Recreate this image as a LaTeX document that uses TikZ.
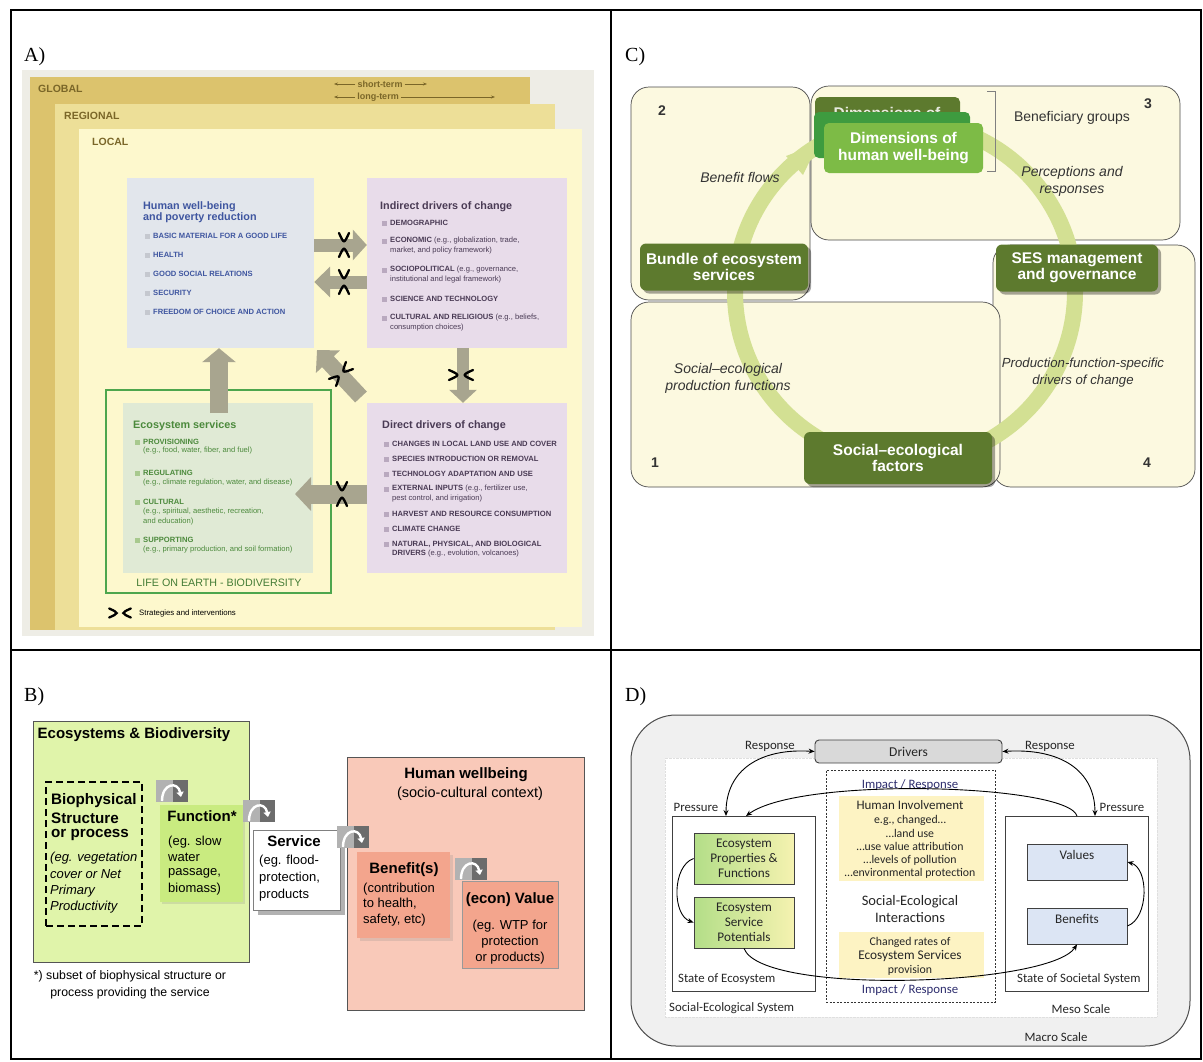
\documentclass[tikz,border=0pt]{standalone}
\usepackage{fontspec}
\setmainfont{Liberation Sans}
\newfontfamily\tnr{Liberation Serif}
\newfontfamily\carlito{Carlito}
\usetikzlibrary{arrows.meta,fit,shadows}
% panel A colours
\definecolor{abg}{HTML}{EEEDE6}
\definecolor{aglob}{HTML}{DCC36D}
\definecolor{areg}{HTML}{EDDF98}
\definecolor{aloc}{HTML}{FDF8CD}
\definecolor{ahwb}{HTML}{E2E6EC}
\definecolor{apur}{HTML}{E8DCEA}
\definecolor{aeco}{HTML}{E0EAD5}
\definecolor{agreen}{HTML}{4DA64D}
\definecolor{aarr}{HTML}{A8A58F}
\definecolor{alvl}{HTML}{7A6628}
\definecolor{ablue}{HTML}{3F56A0}
\definecolor{apurt}{HTML}{4A3B55}
\definecolor{agrt}{HTML}{4C8A3C}
\definecolor{bulb}{HTML}{C5C8CF}
\definecolor{bulp}{HTML}{B9A9BF}
\definecolor{bulg}{HTML}{A8C98E}
% panel C colours
\definecolor{ccream}{HTML}{FCF9E0}
\definecolor{cbord}{HTML}{4A4A4A}
\definecolor{cring}{HTML}{D3E093}
\definecolor{cdark}{HTML}{5D7A2E}
\definecolor{cmid}{HTML}{3E9B3F}
\definecolor{clight}{HTML}{7DBB46}
\definecolor{ctext}{HTML}{333333}
% panel B colours
\definecolor{bgreen}{HTML}{E0F4AA}
\definecolor{bfunc}{HTML}{C9EB80}
\definecolor{bpink}{HTML}{F9C9B9}
\definecolor{bsalmon}{HTML}{F3A58D}
\definecolor{bbord}{HTML}{555555}
% panel D colours
\definecolor{dout}{HTML}{F0F0F0}
\definecolor{dgrey}{HTML}{D9D9D9}
\definecolor{dyel}{HTML}{FDF3C3}
\definecolor{dblue}{HTML}{DCE5F4}
\definecolor{ecoL}{HTML}{B3DE88}
\definecolor{ecoR}{HTML}{F5F2B0}
\definecolor{dnavy}{HTML}{2E2E6E}
\newcommand\fsz[2]{\fontsize{#1}{#2}\selectfont}
\newcommand\aitem[5]{\fill[#2] ({#3-8},{#4-2.5}) rectangle ++(5,5); \node[ait,text=#1] at (#3,#4) {#5};}
\tikzset{
  every node/.style={inner sep=0pt},
  ait/.style={anchor=west, font=\fsz{7.6}{9}},
  atitle/.style={anchor=west, font=\fsz{10.8}{11.5}\bfseries, align=left},
  lvl/.style={anchor=west, font=\fsz{10.5}{11}\bfseries, text=alvl},
  term/.style={font=\fsz{9}{9}\bfseries, text=alvl},
  termline/.style={draw=alvl, line width=0.7, shorten <=2pt, -{Stealth[length=4pt,width=3pt]}},
  fat/.style={draw=aarr, line width=#1},
  pinch/.style={line width=2.3pt, draw=black, line cap=round},
  pinchh/.pic={\draw[pinch] (-5,-12) .. controls (0,-1) .. (5,-12); \draw[pinch] (-5,12) .. controls (0,1) .. (5,12);},
  pinchv/.pic={\draw[pinch] (-12,-5) .. controls (-1,0) .. (-12,5); \draw[pinch] (12,-5) .. controls (1,0) .. (12,5);},
  cbox/.style={draw=cbord, fill=ccream, line width=0.7, rounded corners=18},
  cnode/.style={fill=cdark, rounded corners=6, text=white, font=\fsz{15.5}{16}\bfseries, align=center,
     drop shadow={shadow xshift=3pt, shadow yshift=-3pt, fill=black, opacity=0.35}},
  ctxt/.style={text=ctext, font=\fsz{14}{17}\itshape, align=center},
  btxt/.style={anchor=west, font=\fsz{13}{14}},
  bhead/.style={font=\fsz{15}{16}\bfseries},
  curl/.pic={
    \fill[gray!60] (0,0) rectangle (32,22);
    \fill[gray!85!black] (17,0) rectangle (32,22);
    \draw[white, line width=2.4, -{Triangle[length=5pt,width=7pt]}] (6,21) .. controls (6,3) and (22,1) .. (25,17);},
  dtxt/.style={font=\carlito\fsz{12.8}{14}, text=black!85},
  dbox/.style={draw=black!75, line width=0.9},
  darr/.style={draw=black, line width=0.9},
  stl/.tip={Stealth[length=6pt,width=5pt]}
}
\begin{document}
\begin{tikzpicture}[x=1pt,y=-1pt]
\useasboundingbox (0,0) rectangle (1203,1061);
\fill[white] (0,0) rectangle (1203,1061);

%%%%%%%%%%%%%%%% PANEL A
\fill[abg] (22,70) rectangle (594,636);
\fill[aglob] (30,77) rectangle (530,630);
\fill[areg] (55,104) rectangle (555,630);
\fill[aloc] (79,129) rectangle (582,627);
\node[lvl] at (38,89) {GLOBAL};
\node[lvl] at (64,116) {REGIONAL};
\node[lvl] at (92,142) {LOCAL};
\node[term] (st) at (380,84) {short-term};
\coordinate (st1) at (334,84); \coordinate (st2) at (427,84);
\draw[termline] (st.west) -- (st1);
\draw[termline] (st.east) -- (st2);
\node[term] (lt) at (378,97) {long-term};
\coordinate (lt1) at (334,97); \coordinate (lt2) at (495,97);
\draw[termline] (lt.west) -- (lt1);
\draw[termline] (lt.east) -- (lt2);

\node[fit={(127,178) (314,348)}, fill=ahwb] (hwb) {};
\node[fit={(367,178) (567,348)}, fill=apur] (ind) {};
\node[fit={(106,390) (331,593)}, draw=agreen, line width=1.6] (life) {};
\node[fit={(123,403) (313,573)}, fill=aeco] (es) {};
\node[fit={(367,403) (567,573)}, fill=apur] (dir) {};

% human well-being
\node[atitle, text=ablue] at (143,212) {Human well-being\\and poverty reduction};
\aitem{ablue}{bulb}{153}{236}{\textbf{BASIC MATERIAL FOR A GOOD LIFE}}
\aitem{ablue}{bulb}{153}{255}{\textbf{HEALTH}}
\aitem{ablue}{bulb}{153}{274}{\textbf{GOOD SOCIAL RELATIONS}}
\aitem{ablue}{bulb}{153}{293}{\textbf{SECURITY}}
\aitem{ablue}{bulb}{153}{312}{\textbf{FREEDOM OF CHOICE AND ACTION}}
% indirect drivers
\node[atitle, text=apurt] at (380,207) {Indirect drivers of change};
\aitem{apurt}{bulp}{390}{223}{\textbf{DEMOGRAPHIC}}
\aitem{apurt}{bulp}{390}{241}{\textbf{ECONOMIC} (e.g., globalization, trade,}
\node[ait, text=apurt] at (390,251) {market, and policy framework)};
\aitem{apurt}{bulp}{390}{270}{\textbf{SOCIOPOLITICAL} (e.g., governance,}
\node[ait, text=apurt] at (390,280) {institutional and legal framework)};
\aitem{apurt}{bulp}{390}{299}{\textbf{SCIENCE AND TECHNOLOGY}}
\aitem{apurt}{bulp}{390}{318}{\textbf{CULTURAL AND RELIGIOUS} (e.g., beliefs,}
\node[ait, text=apurt] at (390,328) {consumption choices)};
% ecosystem services
\node[atitle, text=agrt] at (133,426) {Ecosystem services};
\aitem{agrt}{bulg}{143}{442}{\textbf{PROVISIONING}}
\node[ait, text=agrt] at (143,451) {(e.g., food, water, fiber, and fuel)};
\aitem{agrt}{bulg}{143}{473}{\textbf{REGULATING}}
\node[ait, text=agrt] at (143,483) {(e.g., climate regulation, water, and disease)};
\aitem{agrt}{bulg}{143}{502}{\textbf{CULTURAL}}
\node[ait, text=agrt] at (143,512) {(e.g., spiritual, aesthetic, recreation,};
\node[ait, text=agrt] at (143,522) {and education)};
\aitem{agrt}{bulg}{143}{540}{\textbf{SUPPORTING}}
\node[ait, text=agrt] at (143,550) {(e.g., primary production, and soil formation)};
\node[font=\fsz{10.7}{11}, text=agrt!90!black] at (219,583) {LIFE ON EARTH - BIODIVERSITY};
% direct drivers
\node[atitle, text=apurt] at (382,426) {Direct drivers of change};
\aitem{apurt}{bulp}{392}{444}{\textbf{CHANGES IN LOCAL LAND USE AND COVER}}
\aitem{apurt}{bulp}{392}{459}{\textbf{SPECIES INTRODUCTION OR REMOVAL}}
\aitem{apurt}{bulp}{392}{474}{\textbf{TECHNOLOGY ADAPTATION AND USE}}
\aitem{apurt}{bulp}{392}{489}{\textbf{EXTERNAL INPUTS} (e.g., fertilizer use,}
\node[ait, text=apurt] at (392,499) {pest control, and irrigation)};
\aitem{apurt}{bulp}{392}{514}{\textbf{HARVEST AND RESOURCE CONSUMPTION}}
\aitem{apurt}{bulp}{392}{529}{\textbf{CLIMATE CHANGE}}
\aitem{apurt}{bulp}{392}{544}{\textbf{NATURAL, PHYSICAL, AND BIOLOGICAL}}
\node[ait, text=apurt] at (392,554) {\textbf{DRIVERS} (e.g., evolution, volcanoes)};

% fat arrows
\coordinate (upstart) at (219,413);
\coordinate (diagstart) at (361,397);
\coordinate (diagend) at (317,350);
\coordinate (lefttip) at (295,494);
\draw[fat=13, -{Triangle[length=14pt,width=30pt]}] (hwb.east |- 0,245) -- (ind.west |- 0,245);
\draw[fat=13, -{Triangle[length=16pt,width=30pt]}] (ind.west |- 0,282) -- (hwb.east |- 0,282);
\draw[fat=18, -{Triangle[length=14pt,width=33pt]}] (upstart) -- (hwb.south -| upstart);
\draw[fat=16, -{Triangle[length=16pt,width=32pt]}] (diagstart) -- (diagend);
\draw[fat=12, -{Triangle[length=13pt,width=27pt]}] (ind.south -| 463,0) -- (dir.north -| 463,0);
\draw[fat=19, -{Triangle[length=16pt,width=33pt]}] (dir.west |- lefttip) -- (lefttip);
\pic at (344,245) {pinchh};
\pic at (344,282) {pinchh};
\pic at (342,494) {pinchh};
\pic at (461,375) {pinchv};
\pic[rotate=-45] at (341,374) {pinchh};
\pic[scale=0.9] at (120,613) {pinchv};
\node[anchor=west, font=\fsz{7.8}{8}] at (139,613) {Strategies and interventions};

%%%%%%%%%%%%%%%% PANEL C
\node[cbox, fit={(631,87) (810,300)}] (q2) {};
\node[cbox, fit={(811,86) (1180,240)}] (q3) {};
\node[cbox, fit={(993,245) (1195,487)}] (q4) {};
\node[cbox, fit={(631,302) (1000,487)}] (q1) {};
\draw[cring, line width=16pt] (905,292) circle[radius=170pt];
\fill[cring] (818,144) -- (786,156) -- (803,175) -- cycle;
\node[font=\fsz{14}{14}\bfseries, text=ctext] at (662,111) {2};
\node[font=\fsz{14}{14}\bfseries, text=ctext] at (1148,104) {3};
\node[font=\fsz{14}{14}\bfseries, text=ctext] at (655,463) {1};
\node[font=\fsz{14}{14}\bfseries, text=ctext] at (1147,463) {4};
\node[ctxt] at (740,177) {Benefit flows};
\node[ctxt, font=\fsz{14}{17}] at (1072,118) {Beneficiary groups};
\node[ctxt] at (1072,181) {Perceptions and\\responses};
\node[ctxt] at (728,378) {Social–ecological\\production functions};
\node[ctxt, font=\fsz{13.2}{17}\itshape] at (1083,373) {Production-function-specific\\drivers of change};
\node[cnode, minimum width=168pt, minimum height=47pt] (bundle) at (724,267) {Bundle of ecosystem\\services};
\node[cnode, minimum width=162pt, minimum height=47pt] (ses) at (1077,268) {SES management\\and governance};
\node[cnode, minimum width=188pt, minimum height=52pt] (sef) at (898,458) {Social–ecological\\factors};
\node[fit={(815,97) (960,140)}, fill=cdark, rounded corners=5] (dim1) {};
\node[text=white!85!cdark, font=\fsz{15.5}{16}\bfseries] at (887,113) {Dimensions of};
\node[fit={(814,112) (970,158)}, fill=cmid, rounded corners=5] (dim2) {};
\node[fit={(824,123) (983,173)}, fill=clight, rounded corners=5] (dim3) {};
\node[text=white, font=\fsz{15.5}{17}\bfseries, align=center] at (dim3) {Dimensions of\\human well-being};
\draw[gray, line width=0.8] (987,91) -- (995,91) -- (995,171) -- (987,171);

%%%%%%%%%%%%%%%% PANEL B
\node[fit={(33,721) (249,962)}, fill=bgreen, draw=bbord, line width=1] (ecob) {};
\node[font=\fsz{15}{16}\bfseries] at (134,735) {Ecosystems \& Biodiversity};
\node[fit={(46,782) (142,926)}, draw=black, line width=1.3, dash pattern=on 7pt off 4pt] (bio) {};
\node[btxt, font=\fsz{15.2}{16}\bfseries] at (51,801) {Biophysical};
\node[btxt, font=\fsz{15.2}{16}\bfseries] at (51,818) {Structure};
\node[btxt, font=\fsz{15.2}{16}\bfseries] at (51,835) {or process};
\node[btxt, font=\fsz{13}{14}\itshape] at (50,858) {(eg. vegetation};
\node[btxt, font=\fsz{13}{14}\itshape] at (50,874) {cover or Net};
\node[btxt, font=\fsz{13}{14}\itshape] at (50,891) {Primary};
\node[btxt, font=\fsz{13}{14}\itshape] at (50,907) {Productivity};
\node[fit={(160,805) (243,902)}, fill=bfunc, drop shadow={shadow xshift=2pt, shadow yshift=-2pt, opacity=0.2}] (func) {};
\node[bhead] at (202,816) {Function*};
\node[btxt] at (168,842) {(eg. slow};
\node[btxt] at (168,857) {water};
\node[btxt] at (168,873) {passage,};
\node[btxt] at (168,889) {biomass)};
\node[fit={(347,757) (584,1010)}, fill=bpink, draw=bbord, line width=1] (hw) {};
\node[font=\fsz{15}{16}\bfseries] at (466,775) {Human wellbeing};
\node[font=\fsz{14.5}{15}] at (470,794) {(socio-cultural context)};
\node[fit={(253,830) (340,910)}, fill=white, draw=gray, line width=0.6, drop shadow={shadow xshift=5pt, shadow yshift=-5pt, fill=gray, opacity=0.6}] (serv) {};
\node[bhead] at (294,841) {Service};
\node[btxt] at (259,861) {(eg. flood-};
\node[btxt] at (259,878) {protection,};
\node[btxt] at (259,895) {products};
\node[fit={(357,852) (450,938)}, fill=bsalmon, drop shadow={shadow xshift=3pt, shadow yshift=-3pt, opacity=0.2}] (ben) {};
\node[bhead] at (404,870) {Benefit(s)};
\node[btxt] at (363,889) {(contribution};
\node[btxt] at (363,904) {to health,};
\node[btxt] at (363,920) {safety, etc)};
\node[fit={(462,881) (558,968)}, fill=bsalmon, draw=gray!80, line width=0.6] (val) {};
\node[bhead] at (510,900) {(econ) Value};
\node[font=\fsz{13}{14}] at (510,926) {(eg. WTP for};
\node[font=\fsz{13}{14}] at (510,942) {protection};
\node[font=\fsz{13}{14}] at (510,958) {or products)};
\pic at (156,780) {curl};
\pic at (243,800) {curl};
\pic at (337,826) {curl};
\pic at (455,858) {curl};
\node[font=\fsz{12.3}{13}] at (130,976) {*) subset of biophysical structure or};
\node[font=\fsz{12.3}{13}] at (130,993) {process providing the service};

%%%%%%%%%%%%%%%% PANEL D
\node[fit={(631,715) (1190,1046)}, draw=black!70, fill=dout, rounded corners=45, line width=1] (macro) {};
\node[fit={(665,758) (1157,1017)}, fill=white, draw=gray!25, densely dotted] (meso) {};
\node[fit={(826,770) (995,1002)}, draw=black!80, line width=0.7, dash pattern=on 2pt off 1.5pt] (sei) {};
\node[fit={(815,740) (1002,763)}, dbox, fill=dgrey, rounded corners=4] (drv) {};
\node[dtxt, font=\carlito\fsz{13.5}{14}] at (drv) {Drivers};
\node[dtxt, text=dnavy] (irtop) at (910,785) {Impact / Response};
\node[fit={(839,796) (984,881)}, fill=dyel] (hi) {};
\node[dtxt, font=\carlito\fsz{13}{14}] at (910,805) {Human Involvement};
\node[dtxt, font=\carlito\fsz{11.8}{13}] at (910,820) {e.g., changed…};
\node[dtxt, font=\carlito\fsz{11.8}{13}] at (910,833) {…land use};
\node[dtxt, font=\carlito\fsz{11.8}{13}] at (910,846) {…use value attribution};
\node[dtxt, font=\carlito\fsz{11.8}{13}] at (910,860) {…levels of pollution};
\node[dtxt, font=\carlito\fsz{11.8}{13}] at (910,873) {…environmental protection};
\node[dtxt, font=\carlito\fsz{14.5}{15}] at (910,902) {Social-Ecological};
\node[dtxt, font=\carlito\fsz{14.5}{15}] at (910,918) {Interactions};
\node[fit={(839,932) (984,978)}, fill=dyel] (cr) {};
\node[dtxt, font=\carlito\fsz{11.8}{13}] at (910,942) {Changed rates of};
\node[dtxt, font=\carlito\fsz{13.3}{14}] at (910,956) {Ecosystem Services};
\node[dtxt, font=\carlito\fsz{11.8}{13}] at (910,970) {provision};
\node[dtxt, text=dnavy] at (910,990) {Impact / Response};
\node[fit={(672,816) (815,991)}, dbox, fill=white] (soe) {};
\node[fit={(1005,816) (1148,991)}, dbox, fill=white] (sss) {};
\node[fit={(694,833) (794,884)}, dbox, left color=ecoL, right color=ecoR] (props) {};
\node[dtxt, font=\carlito\fsz{13.2}{15}, align=center] at (props) {Ecosystem\\Properties \&\\Functions};
\node[fit={(694,897) (794,948)}, dbox, left color=ecoL, right color=ecoR] (pot) {};
\node[dtxt, font=\carlito\fsz{13.2}{15}, align=center] at (pot) {Ecosystem\\Service\\Potentials};
\node[fit={(1027,844) (1127,880)}, dbox, fill=dblue] (vals) {};
\node[dtxt, font=\carlito\fsz{13.2}{14}] at (1077,855) {Values};
\node[fit={(1027,908) (1127,944)}, dbox, fill=dblue] (bens) {};
\node[dtxt, font=\carlito\fsz{13.2}{14}] at (1077,919) {Benefits};
\node[dtxt, anchor=west] at (678,979) {State of Ecosystem};
\node[dtxt, anchor=west] at (1017,979) {State of Societal System};
\node[dtxt] at (696,807) {Pressure};
\node[dtxt] at (1122,807) {Pressure};
\node[dtxt] at (770,746) {Response};
\node[dtxt] at (1050,746) {Response};
\node[dtxt, anchor=west] at (669,1008) {Social-Ecological System};
\node[dtxt] at (1081,1009) {Meso Scale};
\node[dtxt] at (1056,1037) {Macro Scale};
\coordinate (lp) at (726,816);
\coordinate (rp) at (1095,816);
\coordinate (la) at (746,816);
\coordinate (ra) at (1077,816);
\draw[darr, {stl}-{stl}] (drv.west) .. controls (760,748) and (726,770) .. (lp);
\draw[darr, {stl}-{stl}] (drv.east) .. controls (1060,748) and (1095,770) .. (rp);
\draw[darr, -{stl}] (ra) .. controls (1068,784) and (800,776) .. (la);
\draw[darr, -{stl}] (props.west) .. controls (672,866) and (672,915) .. (pot.west);
\draw[darr, -{stl}] (bens.east) .. controls (1149,918) and (1149,868) .. (vals.east);
\draw[darr, -{stl}] (pot.south) .. controls (762,996) and (1050,986) .. (bens.south);

%%%%%%%%%%%%%%%% GRID AND LABELS
\draw[line width=2] (11,10) rectangle (1201,1059);
\draw[line width=2] (611,10) -- (611,1059);
\draw[line width=2] (11,650) -- (1201,650);
\node[anchor=west, font=\tnr\fsz{20}{20}] at (24,57) {A)};
\node[anchor=west, font=\tnr\fsz{20}{20}] at (625,57) {C)};
\node[anchor=west, font=\tnr\fsz{20}{20}] at (24,697) {B)};
\node[anchor=west, font=\tnr\fsz{20}{20}] at (625,697) {D)};
\end{tikzpicture}
\end{document}
